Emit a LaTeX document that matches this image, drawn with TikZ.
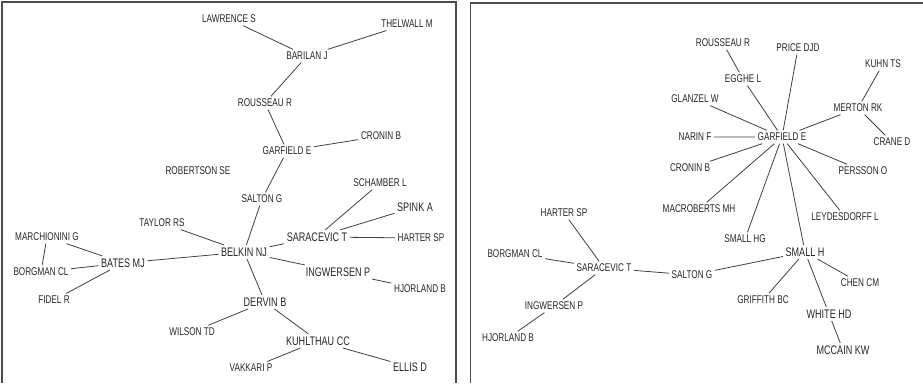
\documentclass[tikz,border=0pt]{standalone}
\usepackage{fontspec}
\newfontfamily\lbl[FakeStretch=0.73]{Liberation Sans}

\begin{document}
\begin{tikzpicture}[x=1pt,y=-1pt,
  every node/.style={font=\lbl\fontsize{11.2}{13}\selectfont,inner sep=2.5pt,text=black!85},
  bigname/.style={font=\lbl\fontsize{12.4}{14}\selectfont},
  link/.style={draw=black!75,line width=.8pt},
  frame/.style={draw=black!70,line width=1.5pt}]
\useasboundingbox (0,0) rectangle (923,383);

\begin{scope}[local bounding box=ll]
  \draw[frame] (2,383) -- (2,2) -- (456,2) -- (456,383);
  \node (LAW) at (229,19) {LAWRENCE S};
  \node (THE) at (407,24) {THELWALL M};
  \node (BAR) at (307,56) {BARILAN J};
  \node (ROU) at (265,103) {ROUSSEAU R};
  \node (CRO) at (381,136) {CRONIN B};
  \node (GAR) at (287,151) {GARFIELD E};
  \node (ROB) at (198,171) {ROBERTSON SE};
  \node (SCH) at (380,183) {SCHAMBER L};
  \node (SAL) at (262,199) {SALTON G};
  \node[bigname] (SPI) at (415,207) {SPINK A};
  \node (TAY) at (162,223) {TAYLOR RS};
  \node[bigname] (SAR) at (317,237) {SARACEVIC T};
  \node (HAR) at (421,238) {HARTER SP};
  \node (MAR) at (47,237) {MARCHIONINI G};
  \node[bigname] (BEL) at (244,252) {BELKIN NJ};
  \node[bigname] (BAT) at (123,263) {BATES MJ};
  \node (BOR) at (41,272) {BORGMAN CL};
  \node[bigname] (ING) at (338,272) {INGWERSEN P};
  \node (HJO) at (420,289) {HJORLAND B};
  \node (FID) at (54,300) {FIDEL R};
  \node[bigname] (DER) at (265,302) {DERVIN B};
  \node (WIL) at (192,332) {WILSON TD};
  \node[bigname] (KUH) at (318,341) {KUHLTHAU CC};
  \node (VAK) at (251,368) {VAKKARI P};
  \node[bigname] (ELL) at (410,367) {ELLIS D};
  \draw[link] (LAW) -- (BAR) -- (THE);
  \draw[link] (BAR) -- (ROU) -- (GAR) -- (CRO);
  \draw[link] (GAR) -- (SAL) -- (BEL) -- (SAR) -- (SCH);
  \draw[link] (SPI) -- (SAR) -- (HAR);
  \draw[link] (TAY) -- (BEL) -- (BAT) -- (MAR) -- (BOR) -- (BAT) -- (FID);
  \draw[link] (BEL) -- (ING) -- (HJO);
  \draw[link] (BEL) -- (DER) -- (WIL);
  \draw[link] (DER) -- (KUH) -- (VAK);
  \draw[link] (KUH) -- (ELL);
\end{scope}

\begin{scope}[shift={(470,0)},local bounding box=rr]
  \draw[frame] (0.5,383) -- (0.5,3) -- (453,3);
  \node (ROU) at (253,43) {ROUSSEAU R};
  \node (PRI) at (328,48) {PRICE DJD};
  \node (KUH) at (413,64) {KUHN TS};
  \node (EGG) at (273,79) {EGGHE L};
  \node (GLA) at (225,99) {GLANZEL W};
  \node (MER) at (388,108) {MERTON RK};
  \node (NAR) at (225,137) {NARIN F};
  \node (GAR) at (312,137) {GARFIELD E};
  \node (CRA) at (422,142) {CRANE D};
  \node (CRO) at (220,168) {CRONIN B};
  \node (PER) at (393,171) {PERSSON O};
  \node (MAC) at (229,209) {MACROBERTS MH};
  \node (LEY) at (375,217) {LEYDESDORFF L};
  \node (HAR) at (94,213) {HARTER SP};
  \node (SHG) at (275,239) {SMALL HG};
  \node[bigname] (SMH) at (335,252) {SMALL H};
  \node (BOR) at (45,254) {BORGMAN CL};
  \node (SAR) at (134,268) {SARACEVIC T};
  \node (SAL) at (222,275) {SALTON G};
  \node (CHE) at (390,283) {CHEN CM};
  \node (GRI) at (293,300) {GRIFFITH BC};
  \node (ING) at (84,306) {INGWERSEN P};
  \node[bigname] (WHI) at (359,314) {WHITE HD};
  \node (HJO) at (38,338) {HJORLAND B};
  \node[bigname] (MCC) at (373,350) {MCCAIN KW};
  \draw[link] (ROU) -- (EGG) -- (GAR) -- (PRI);
  \draw[link] (GLA) -- (GAR) -- (NAR);
  \draw[link] (CRO) -- (GAR) -- (MER) -- (KUH);
  \draw[link] (MER) -- (CRA);
  \draw[link] (PER) -- (GAR) -- (MAC);
  \draw[link] (SHG) -- (GAR) -- (LEY);
  \draw[link] (GAR) -- (SMH);
  \draw[link] (HAR) -- (SAR) -- (BOR);
  \draw[link] (SAR) -- (ING) -- (HJO);
  \draw[link] (SAR) -- (SAL) -- (SMH) -- (GRI);
  \draw[link] (CHE) -- (SMH) -- (WHI) -- (MCC);
\end{scope}
\end{tikzpicture}
\end{document}
